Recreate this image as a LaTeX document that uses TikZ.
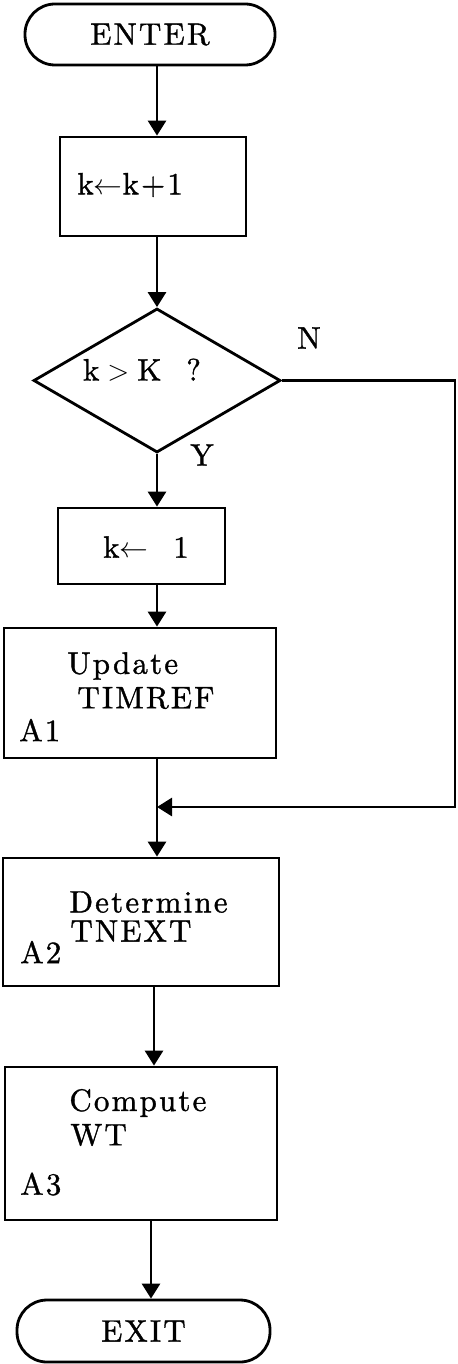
\documentclass[tikz,border=0pt]{standalone}
\usepackage{fontspec}
\newfontfamily\flowfont{lmroman10-regular.otf}[LetterSpace=7,FakeBold=1.2]
\usetikzlibrary{arrows.meta,shapes.geometric}

\tikzset{
  flow/.style={line width=1.4pt},
  arr/.style={flow,-{Triangle[length=7.5pt,width=9pt]}},
  terminal/.style={draw,flow,rounded corners=15pt,inner sep=0pt},
  procbox/.style={draw,flow,inner sep=0pt},
  decision/.style={draw,flow,diamond,inner sep=0pt},
  txt/.style={inner sep=0pt,anchor=west},
}

\begin{document}
\begin{tikzpicture}[x=0.5pt,y=0.5pt,yscale=-1,
  every node/.append style={font=\flowfont\fontsize{15.5}{18}\selectfont}]
\useasboundingbox (0,0) rectangle (458,1364);

%Terminal: ENTER
\node (enter) [terminal,minimum width=125pt,minimum height=30.5pt] at (150,34.5) {ENTER};
%Process: k <- k+1
\node (inc) [procbox,minimum width=93pt,minimum height=49.5pt] at (153,186.5) {};
\node (inctxt) [txt] at (77,185) {k$\leftarrow$k+1};
%Decision: k > K ?
\node (test) [decision,minimum width=123.5pt,minimum height=72pt] at (157,380.5) {};
\node (testtxt) [inner sep=0pt] at (142,370) {k${}>{}$K\ \ ?};
%Process: k <- 1
\node (reset) [procbox,minimum width=83.5pt,minimum height=38pt] at (141.5,546) {};
\node (resettxt) [inner sep=0pt] at (146,547) {k$\leftarrow$\ \ 1};
%Process A1
\node (upd) [procbox,minimum width=136pt,minimum height=65pt] at (140,693) {};
\node (updtxt) [txt] at (67,666) {Update};
\node (updtxtb) [txt] at (77,698) {TIMREF};
\node (upda) [txt] at (19,730) {A1};
%Process A2
\node (det) [procbox,minimum width=138pt,minimum height=64pt] at (141,922) {};
\node (dettxt) [txt] at (69,902) {Determine};
\node (dettxtb) [txt] at (70,931) {TNEXT};
\node (deta) [txt] at (20,952) {A2};
%Process A3
\node (comp) [procbox,minimum width=136pt,minimum height=76.5pt] at (141,1143.5) {};
\node (comptxt) [txt] at (69,1103) {Compute};
\node (comptxtb) [txt] at (70,1135) {WT};
\node (compa) [txt] at (20,1184) {A3};
%Terminal: EXIT
\node (exit) [terminal,minimum width=126.5pt,minimum height=31pt] at (143.5,1331) {EXIT};

% branch labels
\node (nlab) [inner sep=0pt] at (309,338) {N};
\node (ylab) [inner sep=0pt] at (202,455) {Y};

% connector helpers
\coordinate (spine) at (157,0);
\coordinate (nturn) at (455,807);
\coordinate (join) at (157,807);

%Connectors
\draw [arr] (enter.south -| spine) -- (inc.north -| spine);
\draw [arr] (inc.south -| spine) -- (test.north);
\draw [arr] (test.south) -- (test.south |- reset.north);
\draw [arr] (reset.south -| test.south) -- (upd.north -| test.south);
\draw [arr] (upd.south -| spine) -- (det.north -| spine);
\draw [arr] (test.east) -| (nturn) -- (join);
\draw [arr] (det.south -| 154,0) -- (comp.north -| 154,0);
\draw [arr] (comp.south -| 151,0) -- (exit.north -| 151,0);

\end{tikzpicture}
\end{document}
